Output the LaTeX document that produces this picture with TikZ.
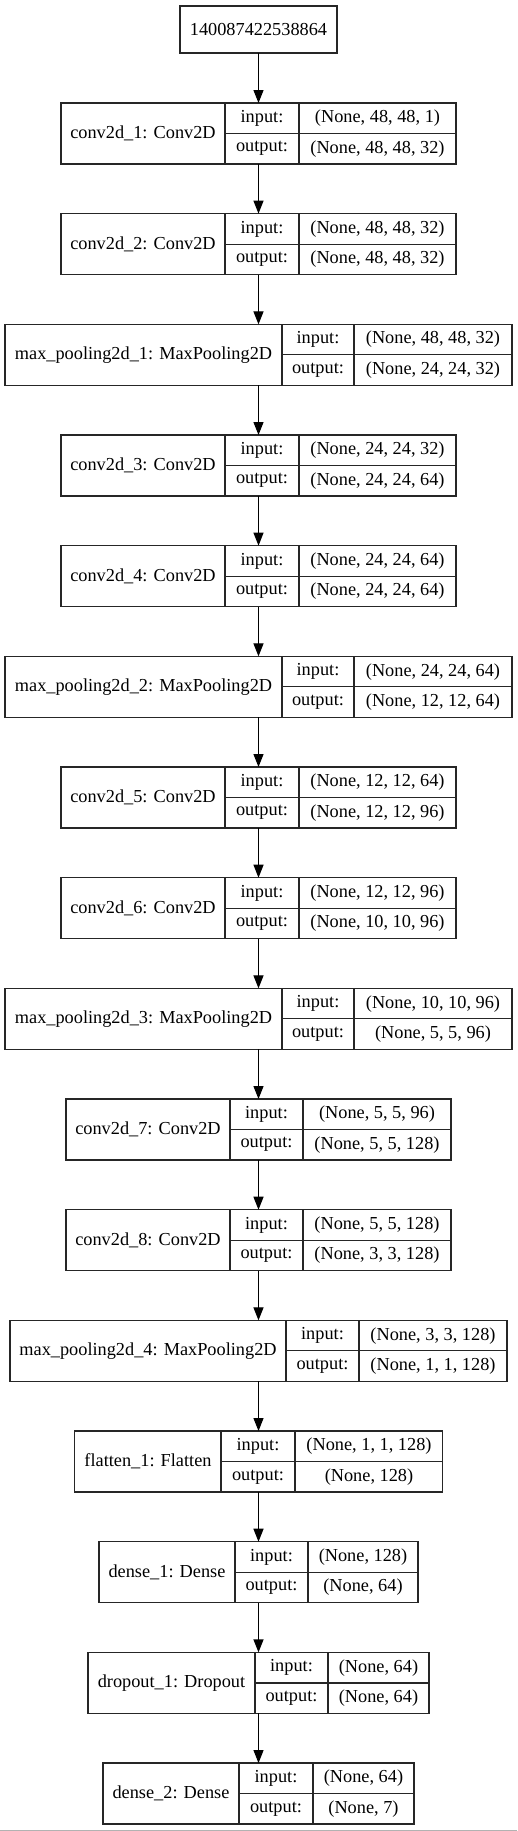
\documentclass[tikz,border=0pt]{standalone}
\usepackage{fontspec}
\setmainfont{Liberation Serif}
\usetikzlibrary{arrows.meta}
\tikzset{
LAYER/.style={draw=black!85, line width=1.2pt, minimum height=61pt, inner sep=0pt, outer sep=0pt},
CELL/.style={draw=black!85, line width=1.2pt},
TXT/.style={inner sep=0pt, font=\fontsize{18.3}{22}\selectfont},
FLOW/.style={draw=black, line width=1.2pt, -{Triangle[length=13pt,width=10pt]}},
}
\begin{document}
\begin{tikzpicture}[x=1pt,y=-1pt]
	\useasboundingbox (0,0) rectangle (517,1831);
	%input id
	\node[LAYER, TXT, minimum width=157pt, minimum height=47pt] (inp) at (258.5,29.5) {140087422538864};
	%layers
	\foreach \l/\a/\b/\r/\name/\vin/\vout [count=\i from 0] in {
		61/225/299/456/{conv2d\_1: Conv2D}/{(None, 48, 48, 1)}/{(None, 48, 48, 32)},
		61/225/299/456/{conv2d\_2: Conv2D}/{(None, 48, 48, 32)}/{(None, 48, 48, 32)},
		5/282/354/512/{max\_pooling2d\_1: MaxPooling2D}/{(None, 48, 48, 32)}/{(None, 24, 24, 32)},
		61/225/299/456/{conv2d\_3: Conv2D}/{(None, 24, 24, 32)}/{(None, 24, 24, 64)},
		61/225/299/456/{conv2d\_4: Conv2D}/{(None, 24, 24, 64)}/{(None, 24, 24, 64)},
		5/282/354/512/{max\_pooling2d\_2: MaxPooling2D}/{(None, 24, 24, 64)}/{(None, 12, 12, 64)},
		61/225/299/456/{conv2d\_5: Conv2D}/{(None, 12, 12, 64)}/{(None, 12, 12, 96)},
		61/225/299/456/{conv2d\_6: Conv2D}/{(None, 12, 12, 96)}/{(None, 10, 10, 96)},
		5/282/354/512/{max\_pooling2d\_3: MaxPooling2D}/{(None, 10, 10, 96)}/{(None, 5, 5, 96)},
		66/230/303/451/{conv2d\_7: Conv2D}/{(None, 5, 5, 96)}/{(None, 5, 5, 128)},
		66/230/303/451/{conv2d\_8: Conv2D}/{(None, 5, 5, 128)}/{(None, 3, 3, 128)},
		10/286/359/507/{max\_pooling2d\_4: MaxPooling2D}/{(None, 3, 3, 128)}/{(None, 1, 1, 128)},
		75/221/295/443/{flatten\_1: Flatten}/{(None, 1, 1, 128)}/{(None, 128)},
		99/235/308/418/{dense\_1: Dense}/{(None, 128)}/{(None, 64)},
		88/255/328/429/{dropout\_1: Dropout}/{(None, 64)}/{(None, 64)},
		103/239/313/414/{dense\_2: Dense}/{(None, 64)}/{(None, 7)}}{
		\pgfmathsetmacro\yc{133.5+110.67*\i}
		\pgfmathsetmacro\w{\r-\l}
		\node[LAYER, minimum width=\w pt] (L\i) at (258.5,\yc) {};
		\draw[CELL] (\a,\yc-30.5) -- (\a,\yc+30.5);
		\draw[CELL] (\b,\yc-30.5) -- (\b,\yc+30.5);
		\draw[CELL] (\a,\yc) -- (\r,\yc);
		\node[TXT] (N\i) at ({(\l+\a)/2},\yc) {\name};
		\node[TXT] (I\i) at ({(\a+\b)/2},\yc-15.25) {input:};
		\node[TXT] (O\i) at ({(\a+\b)/2},\yc+15.25) {output:};
		\node[TXT] (VI\i) at ({(\b+\r)/2},\yc-15.25) {\vin};
		\node[TXT] (VO\i) at ({(\b+\r)/2},\yc+15.25) {\vout};
	}
	%arrows
	\draw[FLOW] (inp) -- (L0);
	\foreach \i in {1,...,15} {
		\pgfmathtruncatemacro\j{\i-1}
		\draw[FLOW] (L\j) -- (L\i);
	}
	%bottom edge
	\draw[gray!60, line width=1pt] (0,1830.5) -- (517,1830.5);
\end{tikzpicture}
\end{document}
